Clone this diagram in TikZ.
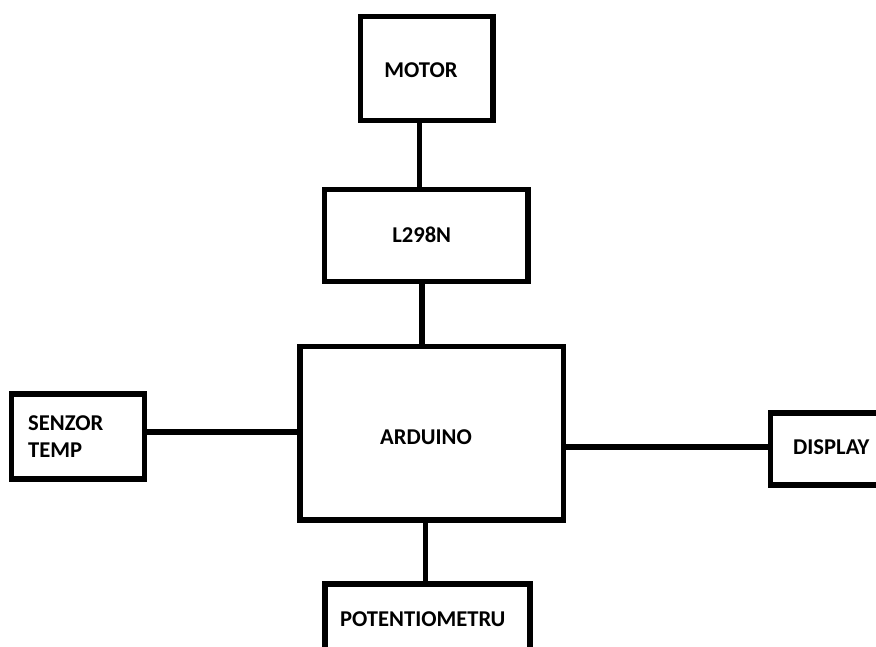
\documentclass[tikz,border=0pt]{standalone}
\usepackage{fontspec}
\setmainfont{Carlito}
\begin{document}
\begin{tikzpicture}[x=1pt,y=-1pt,
  box/.style={draw=black, line width=5.5pt, rectangle, inner sep=0pt, fill=white},
  lbl/.style={font=\fontsize{22.6}{27}\selectfont\bfseries, inner sep=0pt, text=black},
  wire/.style={line width=5.5pt, draw=black}]
\useasboundingbox (0,0) rectangle (876,646);
\clip (0,0) rectangle (876,646);
% boxes
\node[box, minimum width=132.7pt, minimum height=104.4pt] (motor) at (426.7,68.5) {};
\node[box, minimum width=203.3pt, minimum height=91.8pt] (l298) at (426.3,235.4) {};
\node[box, minimum width=263.5pt, minimum height=173.5pt] (arduino) at (431.9,433.3) {};
\node[box, minimum width=133.4pt, minimum height=84.8pt] (senzor) at (78,436.4) {};
\node[box, minimum width=130pt, minimum height=72pt] (display) at (835.3,449) {};
\node[box, minimum width=205pt, minimum height=116pt] (pot) at (427.5,642) {};
% labels
\node[lbl] (tmotor) at (421,70) {MOTOR};
\node[lbl] (tl298) at (421.7,235) {L298N};
\node[lbl] (tarduino) at (426,437) {ARDUINO};
\node[lbl, anchor=west, align=left] (tsenzor) at (28,436.7) {SENZOR\\TEMP};
\node[lbl, anchor=west] (tdisplay) at (793,446.7) {DISPLAY};
\node[lbl] (tpot) at (422.8,619.3) {POTENTIOMETRU};
% connector positions
\coordinate (xa) at (419.5,0);
\coordinate (xb) at (422,0);
\coordinate (xc) at (425.5,0);
\coordinate (ya) at (0,432);
\coordinate (yb) at (0,447);
% connectors
\draw[wire] (motor.south -| xa) -- (l298.north -| xa);
\draw[wire] (l298.south -| xb) -- (arduino.north -| xb);
\draw[wire] (senzor.east |- ya) -- (arduino.west |- ya);
\draw[wire] (arduino.east |- yb) -- (display.west |- yb);
\draw[wire] (arduino.south -| xc) -- (pot.north -| xc);
\end{tikzpicture}
\end{document}
